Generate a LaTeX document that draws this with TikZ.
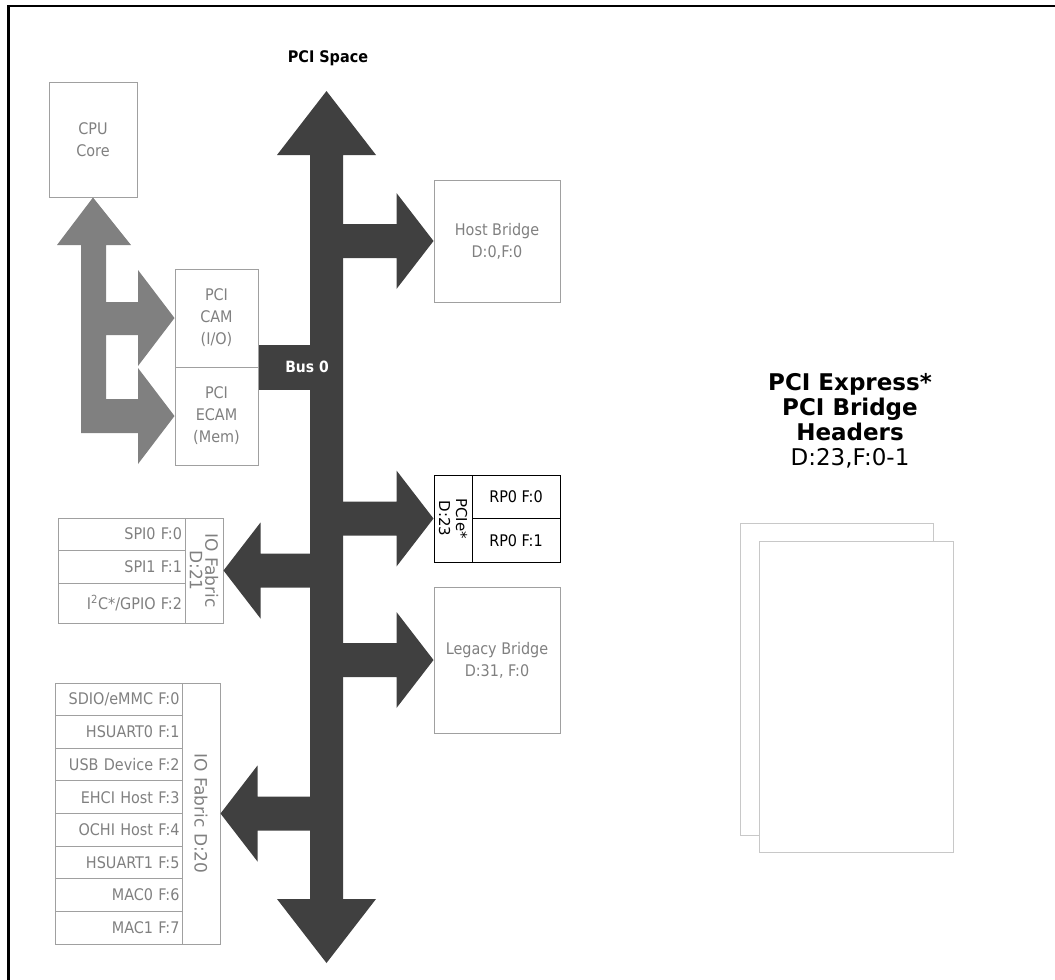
\documentclass[tikz,border=0pt]{standalone}
\usepackage{fontspec}
\setmainfont{DejaVu Sans}
\newfontfamily\condfont{DejaVu Sans Condensed}
\usetikzlibrary{calc}

\definecolor{busdark}{HTML}{404040}
\definecolor{memgray}{HTML}{808080}
\definecolor{txtgray}{HTML}{808080}
\definecolor{boxgray}{HTML}{A0A0A0}
\definecolor{pagegray}{HTML}{C8C8C8}

\tikzset{
  bus/.style={fill=busdark},
  memarrow/.style={fill=memgray},
  box/.style={draw=boxgray,line width=1pt,text=txtgray,align=center,inner sep=0pt,
    font=\condfont\fontsize{16}{22}\selectfont},
  cell/.style={draw=boxgray,line width=1pt,text=txtgray,text width=121pt,align=right,
    inner xsep=3pt,inner ysep=0pt,font=\condfont\fontsize{16}{20}\selectfont},
  fabtext/.style={rotate=-90,text=txtgray,align=center,inner sep=0pt,
    font=\fontsize{17}{15.5}\selectfont},
  pcibox/.style={draw=black,line width=1pt,align=center,inner sep=0pt,
    font=\condfont\fontsize{16}{20}\selectfont},
  page/.style={draw=pagegray,line width=1pt,fill=white},
}

\begin{document}
\begin{tikzpicture}[x=1pt,y=-1pt]
\useasboundingbox (0,0) rectangle (1055,980);
\draw[line width=2.5pt] (8.5,980)--(8.5,6)--(1055,6);

% boxes on the left
\node (cpu) [box,minimum width=88pt,minimum height=115pt] at (93,139.5) {CPU\\Core};
\node (cam) [box,minimum width=83pt,minimum height=98pt] at (216.5,318) {PCI\\CAM\\(I/O)};
\node (ecam) [box,minimum width=83pt,minimum height=98pt] at (216.5,416) {PCI\\ECAM\\(Mem)};

% memory arrows
\fill[memarrow] (81,245)--(57,245)--(cpu.south)--(131,245)--(106,245)--(106,302)
  --(138,302)--(138,270)--(cam.west)--(138,366)--(138,335)--(106,335)--(106,399)
  --(138,399)--(138,368)--(ecam.west)--(138,464)--(138,433)--(81,433)--cycle;

% bus 0
\fill[bus] (310,155)--(277,155)--(326.5,91)--(376,155)--(343,155)--(343,899)
  --(376,899)--(326.5,963)--(277,899)--(310,899)--cycle;
\fill[bus] (cam.south east)++(0,-23) rectangle (315,390);
\node (bus0) [text=white,font=\condfont\bfseries\fontsize{15.5}{18}\selectfont] at (307,367) {Bus 0};
\node (space) [font=\condfont\bfseries\fontsize{16}{18}\selectfont] at (328,58) {PCI Space};

% devices on the right
\node (host) [box,minimum width=126pt,minimum height=122pt] at (497,241) {Host Bridge\\D:0,F:0};
\node (pcie) [pcibox,minimum width=38pt,minimum height=87pt] at (453,518.5) {};
\node (pcietext) [rotate=-90,align=center,inner sep=0pt,font=\fontsize{15}{17}\selectfont] at (pcie) {PCIe*\\D:23};
\node (rpa) [pcibox,minimum width=88pt,minimum height=43.5pt] at (516,496.75) {RP0 F:0};
\node (rpb) [pcibox,minimum width=88pt,minimum height=43.5pt] at (516,540.25) {RP0 F:1};
\node (legacy) [box,minimum width=126pt,minimum height=146pt] at (497,660) {Legacy Bridge\\D:31, F:0};

\fill[bus,shift={(host.west)}] (-100,-17)--(-37,-17)--(-37,-48)--(0,0)--(-37,48)--(-37,17)--(-100,17)--cycle;
\fill[bus,shift={(pcie.west)}] (-100,-17)--(-37,-17)--(-37,-48)--(0,0)--(-37,48)--(-37,17)--(-100,17)--cycle;
\fill[bus,shift={(legacy.west)}] (-100,-17)--(-37,-17)--(-37,-48)--(0,0)--(-37,48)--(-37,17)--(-100,17)--cycle;

% IO fabric D:21
\node (spia) [cell,minimum height=32pt] at (121.5,534) {SPI0 F:0};
\node (spib) [cell,minimum height=33pt] at (121.5,566.5) {SPI1 F:1};
\node (gpio) [cell,minimum height=40pt] at (121.5,603) {I\textsuperscript{2}C*/GPIO F:2};
\node (fab21) [box,minimum width=38pt,minimum height=105pt] at (204,570.5) {};
\node (fab21text) [fabtext] at (fab21) {IO Fabric\\D:21};
\fill[bus,shift={(fab21.east)}] (100,-17)--(37,-17)--(37,-48)--(0,0)--(37,48)--(37,17)--(100,17)--cycle;

% IO fabric D:20
\node (sdio) [cell,minimum height=32.6pt] at (119,699.3) {SDIO/eMMC F:0};
\node (uarta) [cell,minimum height=32.6pt] at (119,731.9) {HSUART0 F:1};
\node (usb) [cell,minimum height=32.6pt] at (119,764.6) {USB Device F:2};
\node (ehci) [cell,minimum height=32.6pt] at (119,797.2) {EHCI Host F:3};
\node (ochi) [cell,minimum height=32.6pt] at (119,829.8) {OCHI Host F:4};
\node (uartb) [cell,minimum height=32.6pt] at (119,862.4) {HSUART1 F:5};
\node (maca) [cell,minimum height=32.6pt] at (119,895.1) {MAC0 F:6};
\node (macb) [cell,minimum height=32.6pt] at (119,927.7) {MAC1 F:7};
\node (fab20) [box,minimum width=38pt,minimum height=261pt] at (201,813.5) {};
\node (fab20text) [fabtext] at (fab20) {IO Fabric D:20};
\fill[bus,shift={(fab20.east)}] (100,-17)--(37,-17)--(37,-48)--(0,0)--(37,48)--(37,17)--(100,17)--cycle;

% bridge headers
\node (headers) [align=center,font=\fontsize{23}{25}\selectfont] at (850,420.5)
  {\textbf{PCI Express*}\\\textbf{PCI Bridge}\\\textbf{Headers}\\D:23,F:0-1};
\draw[page] (740,523) rectangle (933,835);
\draw[page] (759,541) rectangle (953,852);
\end{tikzpicture}
\end{document}
